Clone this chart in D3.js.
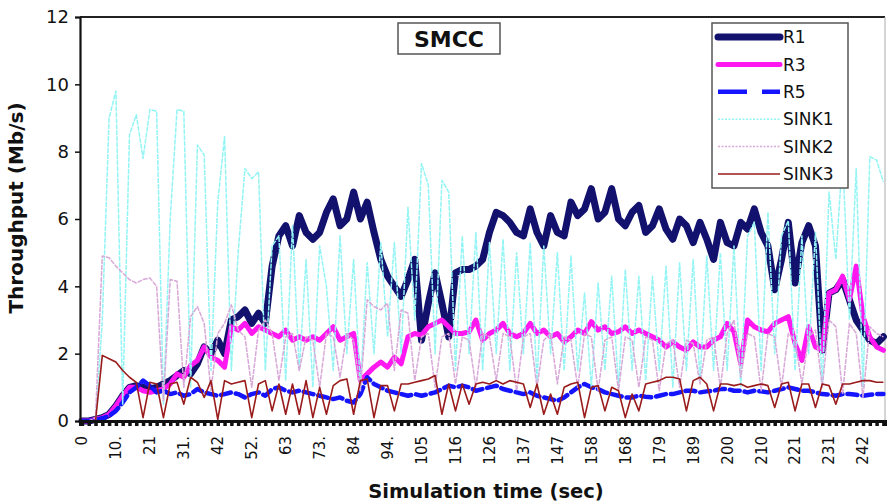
<!DOCTYPE html>
<html>
<head>
<meta charset="utf-8">
<script src="https://cdn.jsdelivr.net/npm/d3@7"></script>
<style>
  body { margin: 0; background: #fff; }
  svg text { font-family: "DejaVu Sans", Verdana, sans-serif; }
</style>
</head>
<body>
<svg id="chart" width="890" height="503"></svg>
<script>
// Throughput samples, one every 2.1 s of simulation time (Mb/s)
const sampleStep = 2.1;

const r1 = [0,0,0.05,0.1,0.2,0.45,0.75,1.0,1.05,1.0,0.95,1.0,1.1,1.2,1.35,1.5,1.4,1.7,2.2,2.0,
  2.4,2.0,3.0,3.1,3.3,2.9,3.2,2.9,4.6,5.5,5.8,5.2,6.1,5.6,5.4,5.6,6.2,6.6,5.8,6.0,
  6.8,6.0,6.5,5.6,4.8,4.3,4.0,3.7,4.2,4.8,2.4,3.5,4.4,3.5,2.5,4.4,4.5,4.5,4.6,4.8,
  5.6,6.2,6.1,5.9,5.6,5.5,6.3,5.6,5.2,6.1,5.6,5.5,6.5,6.1,6.3,6.9,6.0,6.2,6.9,6.0,
  5.8,6.2,6.4,5.6,5.8,6.3,5.7,5.4,6.0,5.8,5.3,5.9,5.4,4.8,5.9,5.3,5.2,5.9,5.7,6.3,
  5.6,5.2,3.9,4.8,5.9,4.1,5.3,5.8,5.2,2.1,3.8,3.9,4.2,3.6,3.0,2.7,2.4,2.3,2.5];

const r3 = [0,0,0.05,0.1,0.2,0.45,0.75,1.0,1.0,0.9,0.85,0.9,0.95,1.1,1.4,1.3,1.65,1.8,2.2,1.9,
  1.8,1.6,2.8,2.7,2.9,2.6,2.8,2.7,2.6,2.5,2.7,2.4,2.5,2.4,2.5,2.4,2.6,2.8,2.4,2.5,
  2.6,1.2,1.4,1.6,1.75,1.6,1.9,1.7,2.5,2.6,2.55,2.8,2.9,3.0,2.8,2.6,2.6,2.65,3.0,2.4,
  2.6,2.7,2.9,2.6,2.5,2.6,2.9,2.6,2.7,2.5,2.6,2.35,2.5,2.7,2.6,2.95,2.7,2.8,2.6,2.65,
  2.8,2.6,2.7,2.6,2.5,2.4,2.2,2.35,2.2,2.1,2.35,2.2,2.2,2.4,2.5,2.9,2.65,1.7,3.0,2.8,
  2.7,2.65,2.9,3.0,3.1,2.3,1.8,2.8,2.2,2.1,3.8,3.9,4.3,3.6,4.6,3.1,2.5,2.2,2.1];

const r5 = [0,0,0.03,0.08,0.15,0.3,0.55,0.85,1.0,1.2,1.05,0.85,0.9,0.8,0.85,0.75,0.8,0.95,0.85,0.8,
  0.75,0.8,0.85,0.8,0.7,0.8,0.85,0.75,0.95,1.0,0.9,0.85,0.9,0.85,0.8,0.75,0.7,0.65,0.7,0.6,
  0.55,0.8,1.3,1.1,1.0,0.9,0.85,0.8,0.75,0.8,0.75,0.8,0.85,0.95,1.05,1.0,1.05,1.0,0.9,0.95,
  1.0,1.05,0.95,0.9,0.85,0.8,0.85,0.75,0.7,0.65,0.6,0.7,0.85,1.0,1.1,1.0,0.95,0.85,0.8,0.75,
  0.7,0.7,0.75,0.72,0.7,0.75,0.8,0.8,0.85,0.9,0.9,0.85,0.88,0.9,0.95,0.95,0.9,0.9,0.85,0.9,
  0.88,0.85,0.9,0.95,1.0,0.95,0.9,0.9,0.85,0.8,0.78,0.75,0.8,0.8,0.78,0.75,0.78,0.8,0.8];

const sink1 = [0,0,0,3.0,9.0,9.8,0.5,8.5,9.1,7.8,9.25,9.2,0.5,6.0,9.25,9.2,1.0,8.2,7.9,1.5,
  6.5,8.45,1.5,5.0,7.5,7.2,7.4,1.5,5.2,5.5,1.2,5.8,1.5,4.8,1.0,5.2,4.0,1.5,5.5,2.0,
  4.8,1.0,4.7,2.0,5.3,2.5,5.3,2.0,6.35,3.0,7.65,7.0,2.0,7.15,6.8,1.5,5.5,2.0,5.6,1.5,
  5.3,2.0,5.4,1.5,5.0,2.0,5.3,1.2,5.2,2.0,5.0,1.5,4.9,1.5,3.8,1.0,4.1,1.5,4.3,1.0,
  4.5,1.5,4.3,1.2,4.3,1.5,4.6,1.0,4.7,1.5,4.8,1.2,4.9,1.5,5.0,1.5,5.2,1.0,5.5,5.9,
  1.5,6.2,2.0,5.5,5.95,1.5,5.5,2.0,5.6,1.0,6.8,4.8,7.9,3.0,7.5,1.0,7.85,7.75,7.1];

const sink2 = [0,0,0.1,4.9,4.85,4.6,4.4,4.2,4.1,4.2,4.25,4.0,0.6,4.2,4.15,1.0,3.1,3.4,2.9,0.9,
  2.6,2.9,3.45,2.7,2.5,1.0,2.7,3.0,2.6,1.2,2.5,2.6,1.5,2.5,2.4,1.0,2.6,2.5,1.3,2.6,
  2.4,0.9,3.6,3.4,3.3,3.5,1.5,3.3,3.2,1.2,2.5,2.6,1.0,2.5,2.6,1.1,2.5,2.4,1.0,2.6,
  2.5,1.2,2.6,2.5,0.9,2.5,2.6,1.0,2.4,2.6,1.1,2.5,2.4,1.0,2.6,2.5,0.9,2.4,2.5,0.9,
  2.5,2.4,1.0,2.5,2.4,0.9,2.3,2.4,1.0,2.4,2.3,1.1,2.4,2.5,1.0,2.6,3.0,1.3,2.6,2.5,
  0.9,2.6,2.5,1.0,2.6,2.4,1.1,2.5,2.7,1.0,3.0,2.8,0.8,2.9,2.6,0.7,2.8,2.6,2.5];

const sink3 = [0,0,0,1.95,1.85,1.75,1.5,1.3,1.15,0.1,1.15,1.1,0.1,1.1,1.15,0.5,1.3,1.15,0.7,1.2,
  0.05,1.2,1.1,1.15,1.2,0.1,1.1,1.2,0.3,1.1,0.2,1.1,0.2,1.2,0.1,1.0,0.2,1.05,1.2,1.25,
  0.2,1.2,1.25,0.1,1.05,1.05,0.3,1.1,1.1,1.15,1.2,1.25,1.35,0.2,1.1,0.3,1.1,0.5,1.1,1.15,
  1.1,1.2,1.1,1.2,1.15,1.1,0.4,1.1,0.2,0.8,0.2,1.0,1.1,1.15,0.1,1.0,1.05,0.3,1.0,0.9,
  0.1,0.8,0.3,1.1,1.15,1.2,1.3,1.3,1.25,0.3,1.2,1.3,1.1,0.3,1.1,1.1,1.05,1.1,1.0,1.05,
  1.1,1.05,0.4,1.1,1.15,0.3,1.1,1.1,0.4,1.1,1.05,0.5,1.1,1.1,1.15,1.2,1.2,1.15,1.15];

const seriesNames = ["R1", "R3", "R5", "SINK1", "SINK2", "SINK3"];
const seriesValues = [r1, r3, r5, sink1, sink2, sink3];

const yTicks = [0, 2, 4, 6, 8, 10, 12];
const xTickTimes = [0, 10.5, 21, 31.5, 42, 52.5, 63, 73.5, 84, 94.5, 105, 115.5, 126, 136.5,
  147, 157.5, 168, 178.5, 189, 199.5, 210, 220.5, 231, 241.5];
const xTickLabels = ["0", "10.", "21", "31.", "42", "52.", "63", "73.", "84", "94.", "105", "116",
  "126", "137", "147", "158", "168", "179", "189", "200", "210", "221", "231", "242"];

// Line styling per series
const styles = {
  R1:    { color: "#12126e", width: 7,   dash: null,  legendDash: null },
  R3:    { color: "#ff19f0", width: 5,   dash: null,  legendDash: null },
  R5:    { color: "#1414ff", width: 4.5, dash: "10,5", legendDash: "29,15" },
  SINK1: { color: "#92f4f4", width: 1.5, dash: "5,1", legendDash: "2,1.5" },
  SINK2: { color: "#d8a8d8", width: 1.5, dash: "5,1", legendDash: "2,1.5" },
  SINK3: { color: "#9a1b1b", width: 1.6, dash: null,  legendDash: null }
};

const svg = d3.select("#chart");
const plot = { left: 80, right: 885, top: 17, bottom: 421 };

const x = d3.scaleLinear().domain([-0.6, 248.3]).range([plot.left, plot.right]);
const y = d3.scaleLinear().domain([0, 12]).range([plot.bottom, plot.top]);

// plot frame: dark top edge, light right edge
svg.append("line").attr("x1", plot.left).attr("x2", plot.right)
  .attr("y1", plot.top).attr("y2", plot.top).attr("stroke", "#222").attr("stroke-width", 2);
svg.append("line").attr("x1", plot.right).attr("x2", plot.right)
  .attr("y1", plot.top).attr("y2", plot.bottom).attr("stroke", "#aaa").attr("stroke-width", 1);

// series lines
const line = d3.line()
  .x((d, i) => x(i * sampleStep))
  .y(d => y(d));

seriesNames.forEach((name, k) => {
  const s = styles[name];
  svg.append("path")
    .datum(seriesValues[k])
    .attr("fill", "none")
    .attr("stroke", s.color)
    .attr("stroke-width", s.width)
    .attr("stroke-linejoin", "round")
    .attr("stroke-linecap", name.startsWith("R") ? "round" : "butt")
    .attr("stroke-dasharray", s.dash)
    .attr("d", line);
});

// y axis
const yAxis = svg.append("g").attr("transform", `translate(${plot.left},0)`)
  .call(d3.axisLeft(y).tickValues(yTicks).tickSize(5).tickPadding(6).tickFormat(d3.format("d")));
yAxis.select(".domain").attr("stroke", "#111").attr("stroke-width", 2.2);
yAxis.selectAll(".tick line").attr("stroke", "#111").attr("stroke-width", 1.5);
yAxis.selectAll(".tick text").attr("font-size", 18).attr("fill", "#111")
  .attr("font-family", "DejaVu Sans, sans-serif");

// x axis: dense tick marks, labels every 10.5 s
const tickTimes = d3.range(0, 248.3, sampleStep);
const xAxisMarks = svg.append("g").attr("transform", `translate(0,${plot.bottom})`)
  .call(d3.axisBottom(x).tickValues(tickTimes).tickSize(5).tickFormat(""));
xAxisMarks.select(".domain").attr("stroke", "#111").attr("stroke-width", 3);
xAxisMarks.selectAll(".tick line").attr("stroke", "#111").attr("stroke-width", 3.5);

const xLabels = svg.append("g");
xLabels.selectAll("text").data(xTickTimes).join("text")
  .attr("transform", d => `translate(${x(d)},436) rotate(-90)`)
  .attr("text-anchor", "end")
  .attr("dy", "0.36em")
  .attr("font-size", 15)
  .attr("fill", "#111")
  .text((d, i) => xTickLabels[i]);

// axis titles
svg.append("text")
  .attr("x", 486).attr("y", 498)
  .attr("text-anchor", "middle")
  .attr("font-size", 19.5).attr("font-weight", "bold").attr("fill", "#111")
  .text("Simulation time (sec)");

svg.append("text")
  .attr("transform", "translate(23,208) rotate(-90)")
  .attr("text-anchor", "middle")
  .attr("font-size", 20).attr("font-weight", "bold").attr("fill", "#111")
  .text("Throughput (Mb/s)");

// chart title box
svg.append("rect").attr("x", 398).attr("y", 23).attr("width", 102).attr("height", 31)
  .attr("fill", "#fff").attr("stroke", "#555").attr("stroke-width", 1.5);
svg.append("text").attr("x", 449).attr("y", 47)
  .attr("text-anchor", "middle").attr("font-size", 22).attr("font-weight", "bold")
  .attr("fill", "#111").text("SMCC");

// legend
const legend = svg.append("g");
legend.append("rect").attr("x", 712).attr("y", 23).attr("width", 136).attr("height", 165)
  .attr("fill", "#fff").attr("stroke", "#555").attr("stroke-width", 1.5);
seriesNames.forEach((name, k) => {
  const s = styles[name];
  const cy = 37 + k * 27.4;
  legend.append("line")
    .attr("x1", 718).attr("x2", 780).attr("y1", cy).attr("y2", cy)
    .attr("stroke", s.color).attr("stroke-width", s.width)
    .attr("stroke-linecap", name === "R1" || name === "R3" ? "round" : "butt")
    .attr("stroke-dasharray", s.legendDash);
  legend.append("text")
    .attr("x", 783).attr("y", cy).attr("dy", "0.36em")
    .attr("font-size", 17).attr("fill", "#111")
    .text(name);
});
</script>
</body>
</html>
